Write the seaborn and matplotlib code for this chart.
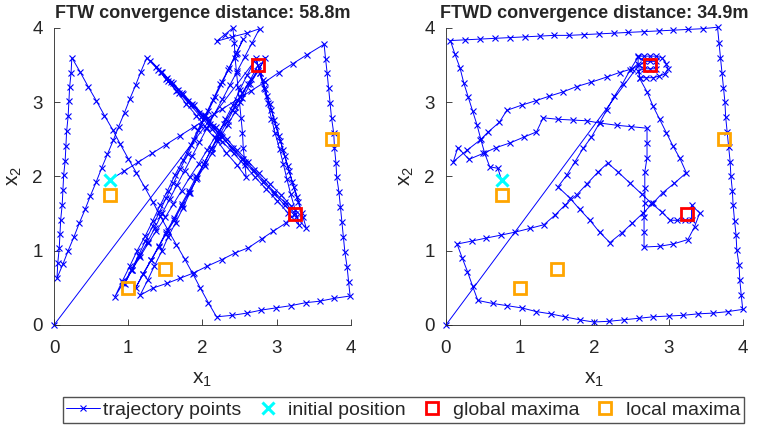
import matplotlib
matplotlib.use("Agg")
import numpy as np
import matplotlib.pyplot as plt
import seaborn as sns

# trajectory points (x1, x2)
ftw_xy = [
    (0.75, 1.95),
    (0.94, 2.07), (1.13, 2.19), (1.32, 2.31), (1.51, 2.43), (1.70, 2.55), (1.89, 2.67), (2.08, 2.79),
    (2.27, 2.91), (2.46, 3.03), (2.65, 3.15), (2.84, 3.27), (3.03, 3.40), (3.22, 3.52), (3.41, 3.64), (3.64, 3.78),
    (3.66, 3.58), (3.68, 3.40), (3.70, 3.19), (3.72, 2.99), (3.74, 2.79), (3.77, 2.58), (3.78, 2.38), (3.80, 2.18),
    (3.81, 1.99), (3.84, 1.79), (3.86, 1.59), (3.88, 1.39), (3.90, 1.19), (3.92, 0.98), (3.95, 0.78), (3.97, 0.58),
    (3.99, 0.39),
    (3.78, 0.36), (3.58, 0.32), (3.39, 0.30), (3.19, 0.26), (2.99, 0.23), (2.79, 0.20), (2.60, 0.16), (2.40, 0.13),
    (2.19, 0.11),
    (2.08, 0.30), (1.97, 0.50), (1.87, 0.69), (1.76, 0.89), (1.65, 1.08), (1.54, 1.27), (1.43, 1.47), (1.33, 1.66),
    (1.22, 1.86), (1.11, 2.05), (1.00, 2.24), (0.89, 2.44), (0.79, 2.63), (0.68, 2.82), (0.57, 3.02), (0.46, 3.21),
    (0.35, 3.41), (0.24, 3.60),
    (0.23, 3.40), (0.21, 3.20), (0.20, 3.01), (0.19, 2.81), (0.17, 2.61), (0.16, 2.41), (0.15, 2.21), (0.13, 2.02),
    (0.12, 1.82), (0.11, 1.62), (0.09, 1.42), (0.08, 1.22), (0.07, 1.03), (0.05, 0.83), (0.04, 0.63),
    (0.12, 0.82), (0.19, 1.00), (0.27, 1.19), (0.34, 1.37), (0.42, 1.56), (0.49, 1.74), (0.57, 1.93), (0.64, 2.11),
    (0.72, 2.30), (0.80, 2.49), (0.87, 2.67), (0.95, 2.86), (1.02, 3.04), (1.10, 3.23), (1.17, 3.41), (1.25, 3.60),
    (1.40, 3.44), (1.54, 3.28), (1.69, 3.12), (1.84, 2.96), (1.98, 2.80), (2.13, 2.64), (2.27, 2.47), (2.42, 2.31),
    (2.57, 2.15), (2.71, 1.99), (2.86, 1.83), (3.01, 1.67), (3.15, 1.51), (3.30, 1.35),
    (3.25, 1.55), (3.19, 1.76), (3.14, 1.96), (3.09, 2.17), (3.04, 2.37), (2.98, 2.58), (2.93, 2.78), (2.88, 2.99),
    (2.83, 3.19), (2.77, 3.40), (2.72, 3.60),
    (2.78, 3.39), (2.84, 3.18), (2.91, 2.97), (2.97, 2.76), (3.03, 2.55), (3.09, 2.35), (3.15, 2.14), (3.21, 1.93),
    (3.28, 1.72), (3.34, 1.51), (3.40, 1.30),
    (3.26, 1.46), (3.11, 1.61), (2.97, 1.77), (2.82, 1.92), (2.68, 2.08), (2.53, 2.23), (2.39, 2.39), (2.25, 2.55),
    (2.10, 2.70), (1.96, 2.86), (1.81, 3.01), (1.67, 3.17), (1.52, 3.32), (1.38, 3.48),
    (1.51, 3.31), (1.65, 3.15), (1.78, 2.98), (1.92, 2.82), (2.05, 2.65), (2.19, 2.49), (2.32, 2.32), (2.46, 2.16),
    (2.59, 1.99),
    (2.57, 2.19), (2.55, 2.39), (2.54, 2.59), (2.52, 2.79), (2.50, 3.00), (2.48, 3.20), (2.46, 3.40), (2.44, 3.60),
    (2.43, 3.80), (2.41, 4.00), (2.30, 3.91), (2.19, 3.82), (2.40, 3.88), (2.60, 3.93), (2.77, 3.99),
    (2.67, 3.80), (2.57, 3.61), (2.47, 3.42), (2.37, 3.23), (2.27, 3.04), (2.16, 2.84), (2.06, 2.65), (1.96, 2.46),
    (1.86, 2.27), (1.76, 2.08), (1.66, 1.89), (1.56, 1.70), (1.46, 1.51), (1.36, 1.31), (1.26, 1.12), (1.15, 0.93),
    (1.05, 0.74), (0.95, 0.55),
    (1.04, 0.74), (1.14, 0.94), (1.23, 1.13), (1.33, 1.33), (1.42, 1.52), (1.51, 1.71), (1.61, 1.91), (1.70, 2.10),
    (1.80, 2.30), (1.89, 2.49), (1.98, 2.68), (2.08, 2.88), (2.17, 3.07), (2.27, 3.27), (2.36, 3.46), (2.46, 3.66),
    (2.55, 3.85),
    (2.45, 3.65), (2.35, 3.44), (2.24, 3.24), (2.14, 3.03), (2.04, 2.83), (1.94, 2.63), (1.84, 2.42), (1.74, 2.22),
    (1.63, 2.02), (1.53, 1.81), (1.43, 1.61), (1.33, 1.40), (1.23, 1.20), (1.12, 1.00), (1.02, 0.79), (0.92, 0.59),
    (0.82, 0.38),
    (0.93, 0.56), (1.05, 0.74), (1.16, 0.92), (1.27, 1.10), (1.38, 1.27), (1.50, 1.45), (1.61, 1.63), (1.72, 1.81),
    (1.83, 1.99), (1.95, 2.17), (2.06, 2.35), (2.17, 2.53), (2.29, 2.71), (2.40, 2.89), (2.51, 3.07), (2.62, 3.24),
    (2.74, 3.42), (2.85, 3.60),
    (2.75, 3.42), (2.64, 3.24), (2.54, 3.05), (2.44, 2.87), (2.34, 2.69), (2.23, 2.51), (2.13, 2.32), (2.03, 2.14),
    (1.92, 1.96), (1.82, 1.78), (1.72, 1.60), (1.62, 1.41), (1.51, 1.23), (1.41, 1.05), (1.31, 0.87), (1.20, 0.68),
    (1.10, 0.50),
    (1.20, 0.69), (1.31, 0.88), (1.41, 1.06), (1.51, 1.25), (1.62, 1.44), (1.72, 1.63), (1.82, 1.81), (1.92, 2.00),
    (2.03, 2.19), (2.13, 2.38), (2.23, 2.56), (2.34, 2.75), (2.44, 2.94), (2.54, 3.13), (2.65, 3.31), (2.75, 3.50),
    (2.81, 3.30), (2.87, 3.09), (2.93, 2.89), (2.99, 2.68), (3.05, 2.48), (3.11, 2.27), (3.17, 2.07), (3.23, 1.86),
    (3.29, 1.66), (3.35, 1.45),
    (3.20, 1.60), (3.06, 1.75), (2.91, 1.90), (2.76, 2.05), (2.62, 2.20), (2.47, 2.35), (2.33, 2.50), (2.18, 2.66),
    (2.03, 2.81), (1.89, 2.96), (1.74, 3.11), (1.60, 3.26), (1.45, 3.41), (1.30, 3.56),
    (1.44, 3.41), (1.58, 3.27), (1.72, 3.12), (1.86, 2.97), (2.00, 2.82), (2.14, 2.68), (2.27, 2.53), (2.41, 2.38),
    (2.55, 2.24), (2.69, 2.09), (2.83, 1.94), (2.97, 1.79), (3.11, 1.65), (3.25, 1.50),
    (3.12, 1.37), (2.95, 1.26), (2.80, 1.16), (2.62, 1.04), (2.44, 0.97), (2.26, 0.88), (2.06, 0.79), (1.88, 0.70),
    (1.70, 0.63), (1.52, 0.56), (1.34, 0.50), (1.16, 0.40),
    (1.26, 0.60), (1.35, 0.79), (1.45, 0.99), (1.54, 1.19), (1.64, 1.38), (1.74, 1.58), (1.83, 1.78), (1.93, 1.98),
    (2.02, 2.17), (2.12, 2.37), (2.22, 2.57), (2.31, 2.77), (2.41, 2.96), (2.50, 3.16), (2.60, 3.36), (2.70, 3.55),
    (0.00, 0.00),
]

ftwd_xy = [
    (0.75, 1.95), (0.70, 2.11), (0.59, 2.13), (0.52, 2.32), (0.47, 2.50), (0.42, 2.69), (0.36, 2.88), (0.30, 3.07),
    (0.24, 3.26), (0.19, 3.46), (0.12, 3.65), (0.06, 3.83),
    (0.26, 3.84), (0.46, 3.85), (0.66, 3.86), (0.86, 3.87), (1.06, 3.88), (1.27, 3.89), (1.46, 3.90), (1.66, 3.90),
    (1.86, 3.91), (2.06, 3.92), (2.26, 3.93), (2.46, 3.94), (2.67, 3.95), (2.87, 3.96), (3.06, 3.97), (3.26, 3.98),
    (3.46, 3.99), (3.66, 4.01),
    (3.68, 3.80), (3.70, 3.60), (3.72, 3.40), (3.74, 3.19), (3.76, 3.00), (3.77, 2.80), (3.79, 2.60), (3.81, 2.40),
    (3.83, 2.20), (3.84, 2.01), (3.86, 1.81), (3.87, 1.62), (3.89, 1.40), (3.91, 1.21), (3.92, 1.01), (3.95, 0.81),
    (3.96, 0.61), (3.98, 0.40), (4.00, 0.21),
    (3.80, 0.18), (3.60, 0.16), (3.40, 0.15), (3.19, 0.13), (3.00, 0.12), (2.79, 0.11), (2.60, 0.09), (2.40, 0.07),
    (2.20, 0.05), (1.99, 0.04), (1.80, 0.07), (1.60, 0.11), (1.41, 0.15), (1.22, 0.18), (1.02, 0.23), (0.82, 0.26),
    (0.63, 0.29), (0.43, 0.33),
    (0.36, 0.52), (0.29, 0.72), (0.22, 0.90), (0.15, 1.09),
    (0.35, 1.13), (0.54, 1.17), (0.74, 1.21), (0.93, 1.25), (1.13, 1.30), (1.32, 1.35), (1.47, 1.48), (1.61, 1.62),
    (1.76, 1.75), (1.90, 1.90), (2.05, 2.06), (2.18, 2.18),
    (2.32, 2.06), (2.48, 1.91), (2.64, 1.76), (2.77, 1.64), (2.91, 1.52), (3.02, 1.41), (3.11, 1.41), (3.22, 1.41),
    (3.31, 1.41), (3.31, 1.61), (3.42, 1.51), (3.35, 1.32), (3.26, 1.15), (3.06, 1.09), (2.88, 1.06), (2.67, 1.05),
    (2.67, 1.25), (2.67, 1.46), (2.68, 1.64), (2.68, 1.84), (2.68, 2.06), (2.71, 2.25), (2.71, 2.45), (2.71, 2.65),
    (2.50, 2.67), (2.30, 2.69), (2.07, 2.72), (1.90, 2.75), (1.71, 2.76), (1.51, 2.77), (1.31, 2.79), (1.22, 2.60),
    (1.05, 2.53), (0.86, 2.45), (0.68, 2.39), (0.50, 2.31), (0.31, 2.23), (0.16, 2.39), (0.10, 2.20),
    (0.28, 2.35), (0.46, 2.49), (0.57, 2.60), (0.72, 2.73), (0.82, 2.89), (1.02, 2.96), (1.21, 3.02), (1.39, 3.08),
    (1.58, 3.14), (1.76, 3.21), (1.96, 3.27), (2.17, 3.34), (2.34, 3.40), (2.51, 3.45),
    (2.59, 3.52), (2.59, 3.62), (2.67, 3.62), (2.75, 3.62), (2.83, 3.62), (2.91, 3.60), (2.97, 3.52), (2.99, 3.45),
    (2.95, 3.38), (2.87, 3.35), (2.79, 3.33), (2.70, 3.33), (2.62, 3.33), (2.59, 3.42), (2.67, 3.45), (2.75, 3.45),
    (2.83, 3.45), (2.83, 3.55), (2.75, 3.55), (2.67, 3.55), (2.59, 3.61),
    (2.48, 3.43), (2.38, 3.25), (2.27, 3.08), (2.17, 2.90), (2.07, 2.72), (1.96, 2.53), (1.85, 2.38), (1.74, 2.20),
    (1.63, 2.02), (1.51, 1.86),
    (1.67, 1.71), (1.80, 1.56), (1.94, 1.41), (2.07, 1.25), (2.21, 1.11),
    (2.37, 1.24), (2.51, 1.37), (2.66, 1.51), (2.79, 1.64), (2.92, 1.78), (3.08, 1.91), (3.24, 2.05),
    (3.15, 2.25), (3.06, 2.41), (2.97, 2.59), (2.88, 2.77), (2.79, 2.95), (2.71, 3.14), (2.61, 3.32), (2.60, 3.50),
    (0.00, 0.00),
]

init_x, init_y = [0.75], [1.95]
global_x = [2.75, 3.25]
global_y = [3.50, 1.50]
local_x = [3.75, 0.75, 1.00, 1.50]
local_y = [2.50, 1.75, 0.50, 0.75]

titles = ["FTW convergence distance: 58.8m", "FTWD convergence distance: 34.9m"]
ticks = [0, 1, 2, 3, 4]

sns.set_theme(style="white")
plt.rcParams["font.family"] = ["Liberation Sans", "DejaVu Sans"]

fig = plt.figure(figsize=(7.61, 4.28), dpi=100)
axes = [fig.add_axes([0.071, 0.2407, 0.390, 0.694]),
        fig.add_axes([0.586, 0.2407, 0.390, 0.694])]

for ax, pts, title in zip(axes, [ftw_xy, ftwd_xy], titles):
    xs = [p[0] for p in pts]
    ys = [p[1] for p in pts]
    sns.lineplot(x=xs, y=ys, sort=False, estimator=None, ax=ax, color="blue",
                 lw=0.7, marker="x", ms=4, mec="blue", mew=0.8, clip_on=False,
                 label="trajectory points")
    ax.plot(init_x, init_y, "x", color="cyan", ms=9, mew=2.2, label="initial position")
    ax.plot(global_x, global_y, "s", mfc="none", mec="red", ms=8, mew=2, label="global maxima")
    ax.plot(local_x, local_y, "s", mfc="none", mec="#FFA500", ms=8, mew=2, label="local maxima")

    ax.set_xlim(0, 4)
    ax.set_ylim(0, 4)
    ax.set_xticks(ticks)
    ax.set_yticks(ticks)
    ax.tick_params(direction="in", length=4, width=0.6, color="#262626",
                   labelsize=13.5, labelcolor="#262626", bottom=True, left=True)
    ax.tick_params(axis="x", pad=11)
    ax.tick_params(axis="y", pad=8)
    for s in ["top", "right"]:
        ax.spines[s].set_visible(False)
    for s in ["left", "bottom"]:
        ax.spines[s].set_color("#262626")
        ax.spines[s].set_linewidth(0.6)
    ax.set_xlabel("$\\mathregular{x_1}$", fontsize=15, color="#262626", labelpad=9)
    ax.set_ylabel("$\\mathregular{x_2}$", fontsize=15, color="#262626", labelpad=6)
    ax.set_title(title, fontsize=13, fontweight="bold", pad=7)
    ax.get_legend().remove()

handles, labels = axes[0].get_legend_handles_labels()
fig.legend(handles, labels, loc="lower center", bbox_to_anchor=(0.53, 0.012), ncol=4,
           fontsize=14, frameon=True, fancybox=False, edgecolor="#262626",
           handlelength=1.7, handletextpad=0.2, columnspacing=0.5, borderpad=0.2,
           borderaxespad=0, numpoints=1)

fig.savefig("out.png", dpi=100)
